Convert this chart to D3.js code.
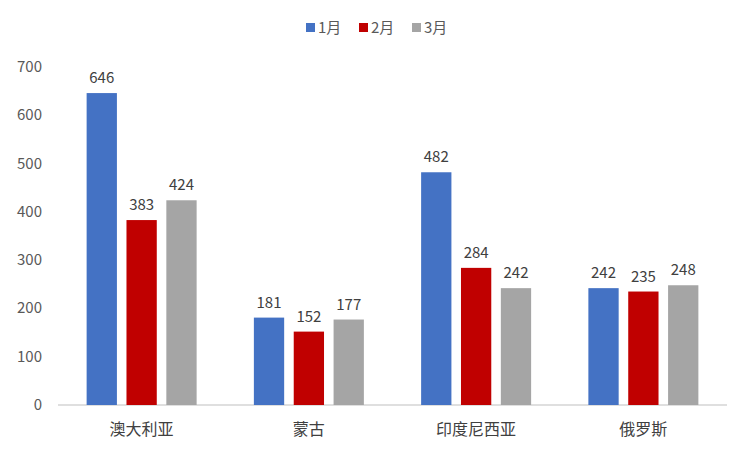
<!DOCTYPE html>
<html><head><meta charset="utf-8">
<script src="https://cdn.jsdelivr.net/npm/d3@7"></script>
<style>body{margin:0;background:#fff}</style>
</head><body><div id="chart"></div>
<script>
var categories = ["澳大利亚", "蒙古", "印度尼西亚", "俄罗斯"];
var seriesNames = ["1月", "2月", "3月"];
var jan = [646, 181, 482, 242];
var feb = [383, 152, 284, 235];
var mar = [424, 177, 242, 248];
var yTicks = [0, 100, 200, 300, 400, 500, 600, 700];
var colors = ["#4472C4", "#C00000", "#A5A5A5"];

var width = 750, height = 453;
var margin = {top: 67, right: 23, bottom: 48, left: 58};
var font = "'Noto Sans CJK SC', sans-serif";

var svg = d3.select("#chart").append("svg")
  .attr("width", width).attr("height", height);

var x = d3.scaleBand().domain(categories)
  .range([margin.left, width - margin.right]);
var x1 = d3.scaleBand().domain(seriesNames)
  .range([x.bandwidth()/2 - 55, x.bandwidth()/2 + 55]).paddingInner(0.24);
var y = d3.scaleLinear().domain([0, 700])
  .range([height - margin.bottom, margin.top]);

// y tick labels
svg.append("g").selectAll("text").data(yTicks).enter().append("text")
  .attr("x", 42).attr("y", function(d){ return y(d) + 5; })
  .attr("text-anchor", "end").attr("font-family", font)
  .attr("font-size", 15).attr("fill", "#595959")
  .text(function(d){ return d; });

// baseline
svg.append("line")
  .attr("x1", margin.left).attr("x2", width - margin.right)
  .attr("y1", y(0)).attr("y2", y(0))
  .attr("stroke", "#bfbfbf").attr("stroke-width", 1);

var series = [jan, feb, mar];
series.forEach(function(vals, si){
  var g = svg.append("g");
  g.selectAll("rect").data(vals).enter().append("rect")
    .attr("x", function(d, i){ return x(categories[i]) + x1(seriesNames[si]); })
    .attr("y", function(d){ return y(d); })
    .attr("width", x1.bandwidth())
    .attr("height", function(d){ return y(0) - y(d); })
    .attr("fill", colors[si]);
  g.selectAll("text").data(vals).enter().append("text")
    .attr("x", function(d, i){ return x(categories[i]) + x1(seriesNames[si]) + x1.bandwidth()/2; })
    .attr("y", function(d){ return y(d) - 10; })
    .attr("text-anchor", "middle").attr("font-family", font)
    .attr("font-size", 15).attr("fill", "#404040")
    .text(function(d){ return d; });
});

// category labels
svg.append("g").selectAll("text").data(categories).enter().append("text")
  .attr("x", function(d){ return x(d) + x.bandwidth()/2; })
  .attr("y", y(0) + 30)
  .attr("text-anchor", "middle").attr("font-family", font)
  .attr("font-size", 16).attr("fill", "#404040")
  .text(function(d){ return d; });

// legend
var lg = svg.append("g").attr("transform", "translate(306,20)");
seriesNames.forEach(function(n, i){
  var item = lg.append("g").attr("transform", "translate(" + (i*53) + ",0)");
  item.append("rect").attr("width", 9).attr("height", 9).attr("y", 3).attr("fill", colors[i]);
  item.append("text").attr("x", 12).attr("y", 13)
    .attr("font-family", font).attr("font-size", 15).attr("fill", "#595959").text(n);
});
</script>
</body></html>
